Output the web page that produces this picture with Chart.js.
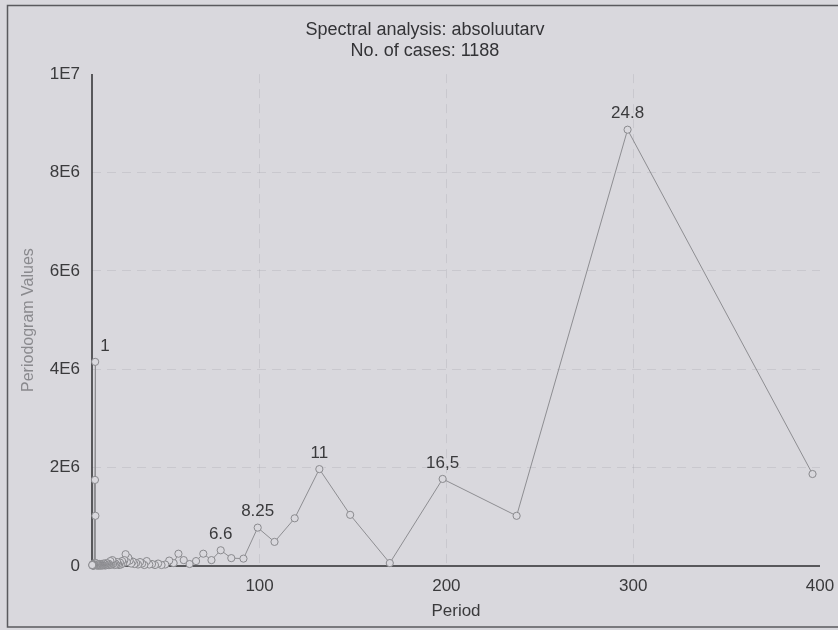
<!DOCTYPE html>
<html>
<head>
<meta charset="utf-8">
<script src="https://cdn.jsdelivr.net/npm/chart.js@4.4.1/dist/chart.umd.min.js"></script>
<style>
  html, body { margin: 0; padding: 0; background: #d9d8dd; }
  #wrap { width: 838px; height: 630px; }
  canvas { display: block; }
</style>
</head>
<body>
<div id="wrap"><canvas id="c" width="838" height="630"></canvas></div>
<script>
// Periodogram of the series: period (months) against periodogram value
const titleLines = ['Spectral analysis: absoluutarv', 'No. of cases: 1188'];
const xAxisTitle = 'Period';
const yAxisTitle = 'Periodogram Values';

const periods = [
  396, 297, 237.6, 198, 169.71, 148.5, 132, 118.8, 108, 99,
  91.38, 84.86, 79.2, 74.25, 69.88, 66, 62.53, 59.4, 56.57, 54,
  51.65, 49.5, 47.52, 45.69, 44, 42.43, 40.97, 39.6, 38.32, 37.13,
  36, 34.94, 33.94, 33, 32.11, 31.26, 30.46, 29.7, 28.98, 28.29,
  27.63, 27, 26.4, 25.83, 25.28, 24.75, 24.24, 23.76, 23.29, 22.85,
  22.42, 22, 21.6, 21.21, 20.84, 20.48, 20.14, 19.8, 19.48, 19.16,
  18.86, 18.56, 18.28, 18, 17.73, 17.47, 17.22, 16.97, 16.73, 16.5,
  16.27, 16.05, 15.84, 15.63, 15.43, 15.23, 15.04, 14.85, 14.67, 14.49,
  14.31, 14.14, 13.98, 13.81, 13.66, 13.5, 13.35, 13.2, 13.05, 12.91,
  12.77, 12.64, 12.51, 12.38, 12.25, 12.12, 12, 11.88, 11.76, 11.65,
  11.53, 11.42, 11.31, 11.21, 11.1, 11, 10.9, 10.8, 10.7, 10.61,
  10.51, 10.42
];

const periodogram = [
  1870000, 8870000, 1020000, 1770000, 60000, 1040000, 1970000, 970000, 490000, 780000,
  150000, 160000, 320000, 120000, 250000, 100000, 40000, 120000, 250000, 60000,
  110000, 30000, 20000, 50000, 20000, 40000, 30000, 100000, 20000, 50000,
  80000, 30000, 60000, 40000, 90000, 50000, 110000, 170000, 80000, 240000,
  120000, 60000, 100000, 30000, 70000, 20000, 40000, 80000, 30000, 50000,
  20000, 60000, 40000, 120000, 30000, 50000, 100000, 20000, 40000, 20000,
  50000, 30000, 20000, 60000, 30000, 10000, 40000, 20000, 30000, 50000,
  20000, 10000, 30000, 20000, 40000, 10000, 20000, 30000, 10000, 20000,
  40000, 20000, 10000, 30000, 20000, 10000, 20000, 40000, 20000, 30000,
  10000, 20000, 50000, 30000, 60000, 1020000, 4150000, 1750000, 60000, 20000,
  30000, 10000, 20000, 30000, 10000, 20000, 40000, 10000, 20000, 30000,
  10000, 20000
];

const xTickValues = [100, 200, 300, 400];
const yTickValues = [0, 2000000, 4000000, 6000000, 8000000, 10000000];
const yTickLabels = ['0', '2E6', '4E6', '6E6', '8E6', '1E7'];

// Peaks annotated with their period in years
const peakPeriods = [12, 79.2, 99, 132, 198, 297];
const peakLabels = ['1', '6.6', '8.25', '11', '16,5', '24.8'];

const BG = '#d9d8dd';
const FONT = "'Liberation Sans', Arial, sans-serif";

// Panel background and frame
const framePlugin = {
  id: 'frame',
  beforeDraw(chart) {
    const ctx = chart.ctx;
    ctx.save();
    ctx.fillStyle = BG;
    ctx.fillRect(0, 0, chart.width, chart.height);
    ctx.strokeStyle = '#5a5a5e';
    ctx.lineWidth = 1.5;
    ctx.beginPath();
    ctx.moveTo(839, 5.5);
    ctx.lineTo(7.5, 5.5);
    ctx.lineTo(7.5, 627);
    ctx.lineTo(839, 627);
    ctx.stroke();
    ctx.restore();
  }
};

// Axis lines drawn solid over the dashed grid
const axisLinePlugin = {
  id: 'axisLines',
  beforeDatasetsDraw(chart) {
    const { ctx, chartArea: a } = chart;
    ctx.save();
    ctx.setLineDash([]);
    ctx.strokeStyle = '#2e2e30';
    ctx.lineWidth = 1.5;
    ctx.beginPath();
    ctx.moveTo(a.left, a.top);
    ctx.lineTo(a.left, a.bottom);
    ctx.lineTo(a.right, a.bottom);
    ctx.stroke();
    ctx.restore();
  }
};

// Text labels above the annotated peaks
const peakLabelPlugin = {
  id: 'peakLabels',
  afterDatasetsDraw(chart) {
    const ctx = chart.ctx;
    const meta = chart.getDatasetMeta(0);
    const area = chart.chartArea;
    ctx.save();
    ctx.font = '17px ' + FONT;
    ctx.fillStyle = '#3a3a3c';
    ctx.textBaseline = 'middle';
    peakPeriods.forEach((p, j) => {
      const i = periods.indexOf(p);
      if (i < 0) return;
      const el = meta.data[i];
      let x = el.x;
      ctx.textAlign = 'center';
      if (x - area.left < 15) { ctx.textAlign = 'left'; x += 5; }
      ctx.fillText(peakLabels[j], x, el.y - 16);
    });
    ctx.restore();
  }
};

const points = periods.map((p, i) => ({ x: p, y: periodogram[i] }));

const gridColor = (edgeValue) => (c) =>
  (c.tick && (c.tick.value === edgeValue || c.tick.value === 0)) ? 'rgba(0,0,0,0)' : 'rgba(140,140,150,0.2)';

new Chart(document.getElementById('c'), {
  type: 'line',
  data: {
    datasets: [{
      data: points,
      borderColor: '#8e8e92',
      borderWidth: 1,
      pointRadius: 3.6,
      pointBorderWidth: 1,
      pointBorderColor: '#8a8a8e',
      pointBackgroundColor: BG,
      pointHoverRadius: 3.6,
      tension: 0,
      clip: 4
    }]
  },
  options: {
    responsive: false,
    animation: false,
    devicePixelRatio: 1,
    events: [],
    layout: { padding: { top: 8, left: 30, right: 18, bottom: 4 } },
    plugins: {
      legend: { display: false },
      tooltip: { enabled: false },
      title: {
        display: true,
        text: titleLines,
        color: '#333336',
        font: { family: FONT, size: 18, weight: 'normal', lineHeight: 1.17 },
        padding: { top: 11.5, bottom: 12.5 }
      }
    },
    scales: {
      x: {
        type: 'linear',
        min: 10.3,
        max: 400,
        afterBuildTicks(scale) { scale.ticks = xTickValues.map(v => ({ value: v })); },
        afterFit(scale) {
          scale.height = 60;
          scale.paddingLeft = 0;
          scale.paddingRight = 0;
        },
        ticks: {
          color: '#3a3a3c',
          font: { family: FONT, size: 17 },
          padding: 10,
          maxRotation: 0,
          callback: (v) => String(v)
        },
        grid: {
          drawTicks: false,
          color: gridColor(400),
          lineWidth: 1
        },
        border: { display: false, dash: [9, 6] },
        title: {
          display: true,
          text: xAxisTitle,
          color: '#3a3a3c',
          font: { family: FONT, size: 17 },
          padding: { top: 0, bottom: 4.5 }
        }
      },
      y: {
        type: 'linear',
        min: 0,
        max: 10000000,
        afterBuildTicks(scale) { scale.ticks = yTickValues.map(v => ({ value: v })); },
        afterFit(scale) { scale.width = 62; },
        ticks: {
          color: '#3a3a3c',
          font: { family: FONT, size: 17 },
          padding: 12,
          callback: (v, i) => yTickLabels[i]
        },
        grid: {
          drawTicks: false,
          color: gridColor(10000000),
          lineWidth: 1
        },
        border: { display: false, dash: [9, 6] },
        title: {
          display: true,
          text: yAxisTitle,
          color: '#8a8a8e',
          font: { family: FONT, size: 16 },
          padding: { top: -11, bottom: 0 }
        }
      }
    }
  },
  plugins: [framePlugin, axisLinePlugin, peakLabelPlugin]
});
</script>
</body>
</html>
